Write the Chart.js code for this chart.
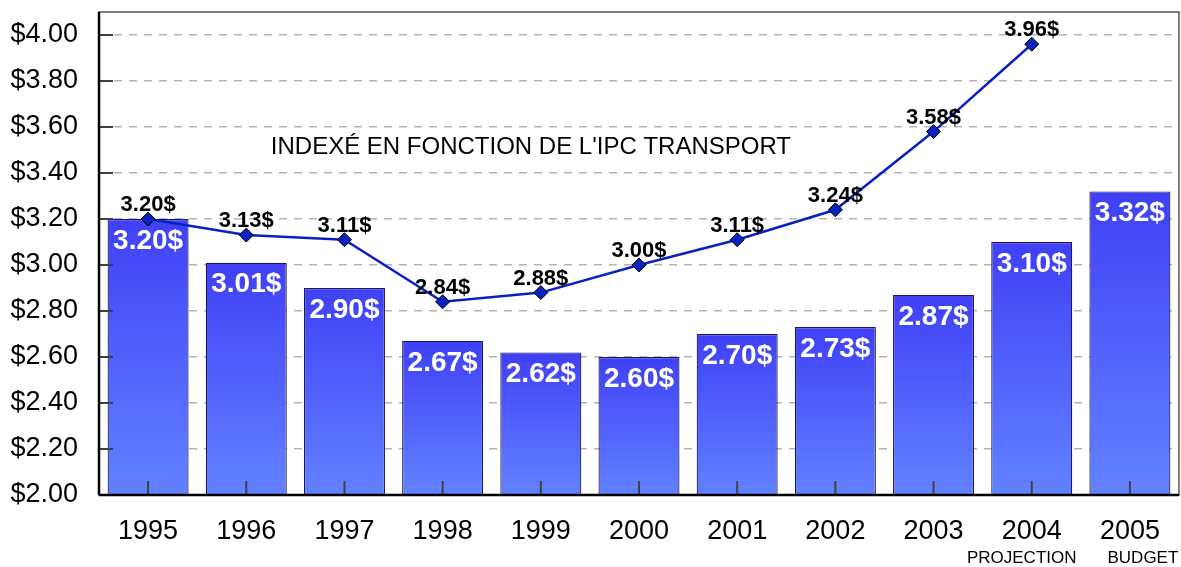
<!DOCTYPE html>
<html>
<head>
<meta charset="utf-8">
<script src="https://cdn.jsdelivr.net/npm/chart.js@4"></script>
<style>
  html, body { margin: 0; padding: 0; background: #fff; }
  #wrap { width: 1181px; height: 567px; }
</style>
</head>
<body>
<div id="wrap"><canvas id="c"></canvas></div>
<script>
// données
const YEARS = ['1995', '1996', '1997', '1998', '1999', '2000', '2001', '2002', '2003', '2004', '2005'];
const SUB_LABELS = ['', '', '', '', '', '', '', '', '', 'PROJECTION', 'BUDGET'];
const BAR_VALUES = [3.20, 3.01, 2.90, 2.67, 2.62, 2.60, 2.70, 2.73, 2.87, 3.10, 3.32];
const IPC_VALUES = [3.20, 3.13, 3.11, 2.84, 2.88, 3.00, 3.11, 3.24, 3.58, 3.96, null];
const NOTE = "INDEXÉ EN FONCTION DE L'IPC TRANSPORT";

const FONT = "'Liberation Sans', Arial, sans-serif";

// dégradé vertical par barre
function barGradient(ctx) {
  const chart = ctx.chart;
  if (!chart.chartArea || ctx.raw == null) return '#4a55f8';
  const y = chart.scales.y;
  const top = y.getPixelForValue(ctx.raw);
  const bot = y.getPixelForValue(y.min);
  const g = chart.ctx.createLinearGradient(0, top, 0, bot);
  g.addColorStop(0, '#4040f6');
  g.addColorStop(1, '#6282ff');
  return g;
}

// cadre, petites graduations internes, étiquettes et note
const decor = {
  id: 'decor',
  afterDatasetsDraw(chart) {
    const {ctx, chartArea: a, scales: {x, y}} = chart;
    ctx.save();
    ctx.strokeStyle = '#404040';
    ctx.lineWidth = 2;
    y.ticks.forEach(t => {
      const py = y.getPixelForValue(t.value);
      ctx.beginPath(); ctx.moveTo(a.left, py); ctx.lineTo(a.left + 14, py); ctx.stroke();
    });
    YEARS.forEach((_, i) => {
      const px = x.getPixelForValue(i);
      ctx.beginPath(); ctx.moveTo(px, a.bottom); ctx.lineTo(px, a.bottom - 14); ctx.stroke();
    });
    ctx.lineWidth = 1.5;
    ctx.strokeStyle = '#555';
    ctx.strokeRect(a.left, a.top, a.right - a.left, a.bottom - a.top);
    ctx.lineWidth = 2.5;
    ctx.strokeStyle = '#000';
    ctx.beginPath(); ctx.moveTo(a.left, a.bottom); ctx.lineTo(a.right, a.bottom); ctx.stroke();
    ctx.beginPath(); ctx.moveTo(a.left, a.top); ctx.lineTo(a.left, a.bottom); ctx.stroke();

    // valeurs des barres
    ctx.textAlign = 'center';
    ctx.textBaseline = 'middle';
    ctx.fillStyle = '#fff';
    ctx.font = 'bold 28px ' + FONT;
    chart.getDatasetMeta(1).data.forEach((bar, i) => {
      ctx.fillText(BAR_VALUES[i].toFixed(2) + '$', bar.x, bar.y + 22);
    });

    // valeurs IPC
    ctx.fillStyle = '#000';
    ctx.font = 'bold 22px ' + FONT;
    chart.getDatasetMeta(0).data.forEach((pt, i) => {
      if (IPC_VALUES[i] == null) return;
      ctx.fillText(IPC_VALUES[i].toFixed(2) + '$', pt.x, pt.y - 14);
    });

    // note
    ctx.textAlign = 'left';
    ctx.font = '24px ' + FONT;
    ctx.fillText(NOTE, x.getPixelForValue(1.25), y.getPixelForValue(3.51));

    // sous-étiquettes
    ctx.textAlign = 'center';
    ctx.font = '17px ' + FONT;
    const shift = [0, 0, 0, 0, 0, 0, 0, 0, 0, -10, 13];
    SUB_LABELS.forEach((s, i) => {
      if (s) ctx.fillText(s, x.getPixelForValue(i) + shift[i], 558);
    });
    ctx.restore();
  }
};

new Chart(document.getElementById('c'), {
  data: {
    labels: YEARS,
    datasets: [{
      type: 'line',
      label: 'IPC transport',
      data: IPC_VALUES,
      borderColor: '#0a20c4',
      borderWidth: 2.5,
      pointStyle: 'rectRot',
      pointRadius: 7,
      pointHoverRadius: 7,
      pointBackgroundColor: '#0a22c0',
      pointBorderColor: '#000',
      pointBorderWidth: 1,
      spanGaps: false,
      order: 0
    }, {
      type: 'bar',
      label: 'Tarif',
      data: BAR_VALUES,
      backgroundColor: barGradient,
      borderColor: '#1a1a5a',
      borderWidth: 1.2,
      barPercentage: 0.825,
      categoryPercentage: 1,
      order: 1
    }]
  },
  options: {
    responsive: true,
    maintainAspectRatio: false,
    animation: false,
    layout: {autoPadding: false, padding: {top: 12, right: 2, left: 0, bottom: 0}},
    plugins: {
      legend: {display: false},
      tooltip: {enabled: false}
    },
    scales: {
      x: {
        grid: {display: false, drawTicks: false},
        border: {display: false},
        ticks: {color: '#000', padding: 20, font: {family: FONT, size: 27}},
        afterFit: s => { s.height = 72; s.paddingLeft = 0; s.paddingRight = 0; }
      },
      y: {
        min: 2.0,
        max: 4.1,
        afterBuildTicks: s => {
          s.ticks = [];
          for (let v = 2.0; v <= 4.0001; v += 0.2) s.ticks.push({value: Math.round(v * 100) / 100});
        },
        grid: {color: '#b4b4b4', lineWidth: 1.5, drawTicks: false},
        border: {display: false, dash: [8, 7]},
        ticks: {
          color: '#000',
          padding: 21,
          font: {family: FONT, size: 27},
          callback: v => '$' + Number(v).toFixed(2)
        },
        afterFit: s => { s.width = 99; s.paddingTop = 0; s.paddingBottom = 0; }
      }
    }
  },
  plugins: [decor]
});
</script>
</body>
</html>
